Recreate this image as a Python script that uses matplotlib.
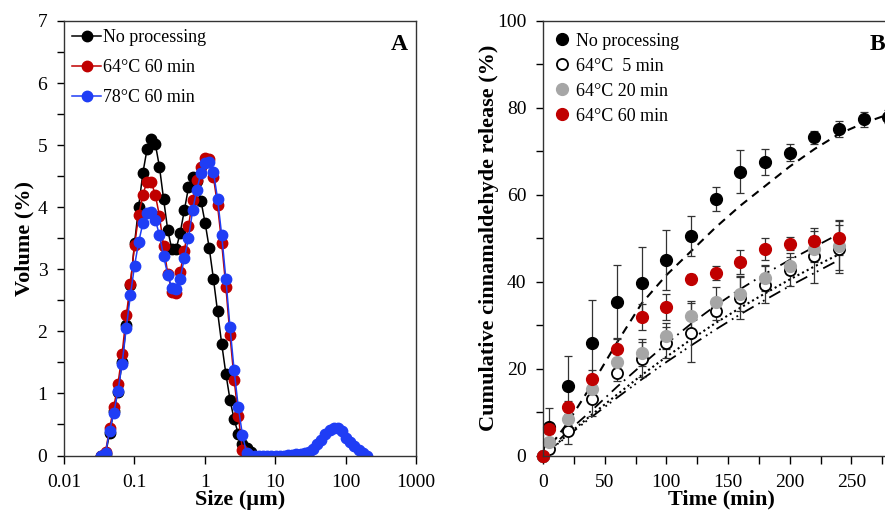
import matplotlib.pyplot as plt
from matplotlib.ticker import MultipleLocator, FixedLocator, FixedFormatter, NullLocator

plt.rcParams['font.family'] = ['Liberation Serif', 'DejaVu Serif']

# --- panel A: particle size distribution ---
sizes = [0.0339, 0.0389, 0.0445, 0.0510, 0.0584, 0.0669, 0.0766, 0.0877, 0.1005, 0.1151,
         0.1318, 0.1510, 0.1729, 0.1981, 0.2269, 0.2599, 0.2976, 0.3409, 0.3905, 0.4472,
         0.5122, 0.5867, 0.6720, 0.7696, 0.8815, 1.0097, 1.1565, 1.3246, 1.5172, 1.7377,
         1.9904, 2.2797, 2.6111, 2.9907, 3.4255, 3.9234, 4.4938, 5.1471, 5.8953, 6.7523,
         7.7339, 8.8583, 10.146, 11.621, 13.311, 15.246, 17.462, 20.000, 22.908, 26.238,
         30.052, 34.421, 39.425, 45.156, 51.720, 59.239, 67.851, 77.714, 89.011, 101.95,
         116.77, 133.75, 153.19, 175.46, 200.97]

vol_none = [0.0, 0.02, 0.36, 0.72, 1.03, 1.5, 2.1, 2.75, 3.42, 4.01,
            4.55, 4.93, 5.1, 5.02, 4.65, 4.13, 3.63, 3.32, 3.32, 3.59,
            3.95, 4.32, 4.48, 4.42, 4.1, 3.75, 3.34, 2.85, 2.32, 1.8,
            1.32, 0.9, 0.58, 0.35, 0.19, 0.12, 0.05, 0.0]
vol_64 = [0.0, 0.06, 0.44, 0.78, 1.15, 1.64, 2.26, 2.76, 3.39, 3.87,
          4.2, 4.41, 4.41, 4.2, 3.86, 3.37, 2.93, 2.64, 2.62, 2.96,
          3.3, 3.7, 4.11, 4.44, 4.65, 4.8, 4.78, 4.49, 4.03, 3.42,
          2.72, 1.94, 1.22, 0.64, 0.09, 0.0, 0.0]
vol_78 = [0.0, 0.04, 0.4, 0.69, 1.04, 1.48, 2.05, 2.58, 3.06, 3.44,
          3.74, 3.9, 3.93, 3.8, 3.55, 3.21, 2.91, 2.7, 2.69, 2.85,
          3.18, 3.5, 3.95, 4.28, 4.55, 4.72, 4.73, 4.57, 4.14, 3.55,
          2.85, 2.07, 1.37, 0.78, 0.33, 0.04, 0.0, 0.0, 0.0, 0.0,
          0.0, 0.0, 0.0, 0.0, 0.0, 0.01, 0.015, 0.02, 0.03, 0.04,
          0.06, 0.11, 0.18, 0.25, 0.34, 0.41, 0.45, 0.45, 0.39, 0.28,
          0.21, 0.15, 0.09, 0.04, 0.0]

# --- panel B: release profile ---
time = [0, 5, 20, 40, 60, 80, 100, 120, 140, 160, 180, 200, 220, 240, 260, 280]
rel_none = [0, 6.6, 15.9, 26, 35.4, 39.8, 45, 50.6, 59, 65.3, 67.5, 69.7, 73.2, 75.1, 77.4, 78]
err_none = [0, 4.4, 7.1, 9.7, 8.5, 8.2, 6.8, 4.6, 2.8, 5, 3, 2, 1.5, 1.8, 1.7, 1.5]
rel_5 = [0, 1.6, 5.7, 12.9, 19.1, 22.1, 26, 28.3, 33.3, 36.3, 39.3, 42.8, 46, 47.5]
err_5 = [0, 2, 3, 3.8, 2, 4, 3.5, 6.7, 2, 4.8, 4.2, 3.7, 6.4, 5.5]
rel_20 = [0, 3, 8.5, 15.2, 21.6, 23.7, 27.4, 32, 35.4, 37.2, 40.9, 43.7, 47.6, 48.3]
err_20 = [0, 1, 1.5, 2, 2, 3, 3, 3.5, 3.3, 4, 3, 2, 3, 5.7]
rel_60 = [0, 6, 11.1, 17.7, 24.6, 31.9, 34.2, 40.7, 42, 44.6, 47.6, 48.7, 49.4, 50.1]
err_60 = [0, 1, 1.5, 2, 2.5, 3, 3, 1, 1.5, 2.8, 2.5, 1.5, 2.3, 4]

fit_time = [0, 20, 40, 60, 80, 100, 120, 140, 160, 180, 200, 220, 240, 260, 280, 300]
fit_none = [0, 7.5, 16.5, 26, 35, 41.5, 47, 52.5, 57.5, 62, 66.5, 70.5, 74, 76.5, 78.5, 80]
fit_60 = [0, 5.5, 10.5, 15.8, 20.8, 25.7, 30.3, 34.5, 38.3, 41.8, 45, 48, 51]
fit_20 = [0, 4.8, 9.5, 14, 18.5, 22.7, 26.7, 30.5, 34, 37.3, 40.5, 43.5, 46.3]
fit_5 = [0, 4.5, 9, 13.3, 17.5, 21.5, 25.3, 29, 32.5, 35.8, 39, 42, 45]

time_ticks = [0, 50, 100, 150, 200, 250]

red = '#c00000'
blue = '#1f3df5'
gray = '#a6a6a6'

fig = plt.figure(figsize=(8.85, 5.18), dpi=100)
ax1 = fig.add_axes([64 / 885, 62.5 / 518, 352 / 885, 434.5 / 518])
ax2 = fig.add_axes([543 / 885, 62.5 / 518, 370 / 885, 434.5 / 518])

ax1.plot(sizes[:len(vol_none)], vol_none, '-o', color='black', ms=7.5, lw=1.1, label='No processing')
ax1.plot(sizes[:len(vol_64)], vol_64, '-o', color=red, ms=7.5, lw=1.1, label='64°C 60 min')
ax1.plot(sizes[:len(vol_78)], vol_78, '-o', color=blue, ms=7.5, lw=1.1, label='78°C 60 min')
ax1.set_xscale('log')
ax1.set_xlim(0.01, 1000)
ax1.set_ylim(0, 7)
ax1.xaxis.set_major_locator(FixedLocator([0.01, 0.1, 1, 10, 100, 1000]))
ax1.xaxis.set_major_formatter(FixedFormatter(['0.01', '0.1', '1', '10', '100', '1000']))
ax1.xaxis.set_minor_locator(NullLocator())
ax1.yaxis.set_major_locator(MultipleLocator(1))
ax1.yaxis.set_minor_locator(MultipleLocator(0.5))
ax1.set_xlabel('Size (µm)', fontsize=16, fontweight='bold')
ax1.xaxis.set_label_coords(0.5, -0.079)
ax1.set_ylabel('Volume (%)', fontsize=16, fontweight='bold')
ax1.yaxis.set_label_coords(-0.085, 0.5)
ax1.legend(loc='upper left', frameon=False, fontsize=13, handlelength=1.6,
           handletextpad=0.1, labelspacing=0.72, borderaxespad=0.2, borderpad=0.25)

# fitted release curves
ax2.plot(fit_time, fit_none, color='black', lw=1.5, dashes=(4, 3))
ax2.plot(fit_time[:len(fit_60)], fit_60, color='black', lw=1.3, dashes=(6, 3, 1, 3))
ax2.plot(fit_time[:len(fit_20)], fit_20, color='black', lw=1.5, dashes=(1, 1.5))
ax2.plot(fit_time[:len(fit_5)], fit_5, color='black', lw=1.3, dashes=(7, 3, 1, 2, 1, 3))

ekw = dict(fmt='none', ecolor='#333333', elinewidth=0.9, capsize=3, capthick=0.9)
ax2.errorbar(time, rel_none, yerr=err_none, **ekw)
ax2.errorbar(time[:len(rel_5)], rel_5, yerr=err_5, **ekw)
ax2.errorbar(time[:len(rel_20)], rel_20, yerr=err_20, **ekw)
ax2.errorbar(time[:len(rel_60)], rel_60, yerr=err_60, **ekw)
ax2.plot(time, rel_none, 'o', color='black', ms=8.5, label='No processing', clip_on=False)
ax2.plot(time[:len(rel_5)], rel_5, 'o', mfc='white', mec='black', mew=1.3, ms=8, label='64°C  5 min', clip_on=False)
ax2.plot(time[:len(rel_20)], rel_20, 'o', color=gray, ms=8.5, label='64°C 20 min', clip_on=False)
ax2.plot(time[:len(rel_60)], rel_60, 'o', color=red, ms=8.5, label='64°C 60 min', clip_on=False)
ax2.set_xlim(0, 300)
ax2.set_ylim(0, 100)
ax2.xaxis.set_major_locator(FixedLocator(time_ticks))
ax2.xaxis.set_minor_locator(MultipleLocator(25))
ax2.yaxis.set_major_locator(MultipleLocator(20))
ax2.yaxis.set_minor_locator(MultipleLocator(10))
ax2.set_xlabel('Time (min)', fontsize=16, fontweight='bold')
ax2.xaxis.set_label_coords(0.481, -0.079)
ax2.set_ylabel('Cumulative cinnamaldehyde release (%)', fontsize=16, fontweight='bold')
ax2.yaxis.set_label_coords(-0.119, 0.5)
ax2.legend(loc='upper left', frameon=False, fontsize=13, handlelength=0.8,
           handletextpad=0.4, labelspacing=0.44, borderaxespad=0.35, borderpad=0.3)

for ax in (ax1, ax2):
    ax.tick_params(which='both', direction='out', length=5, width=1, labelsize=14, pad=7)
    ax.tick_params(axis='x', which='both', length=6)
    for s in ax.spines.values():
        s.set_linewidth(1)
        s.set_color('#333333')

fig.text(399 / 885, 1 - 44.5 / 518, 'A', fontsize=17, fontweight='bold', ha='center', va='center')
fig.text(870 / 885, 1 - 44.5 / 518, 'B', fontsize=17, fontweight='bold', ha='left', va='center')

fig.savefig('out.png', dpi=100)
